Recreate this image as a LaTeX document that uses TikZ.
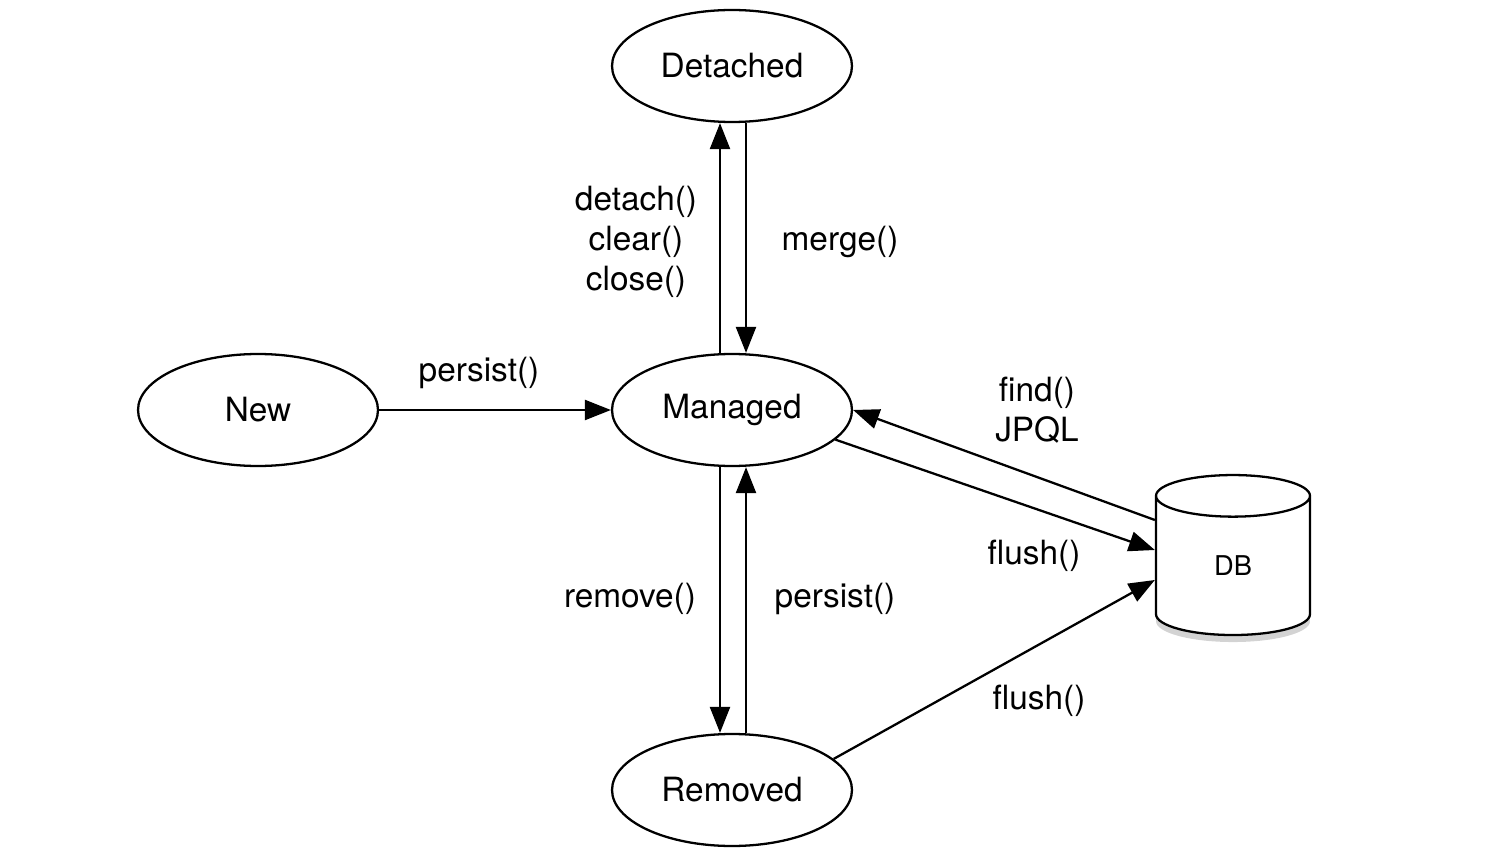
\documentclass[tikz,border=0pt]{standalone}
\usepackage{fontspec}
\setmainfont{TeX Gyre Heros}
\usetikzlibrary{arrows.meta, shapes.geometric, shadows}

\begin{document}
\begin{tikzpicture}[
  x=0.02cm, y=-0.02cm,
  font=\fontsize{19}{22.8}\selectfont, >={Triangle[length=0.52cm, width=0.4cm]},
  line width=1.3pt,
  estado/.style={draw, ellipse, minimum width=4.8cm, minimum height=2.24cm, inner sep=0pt},
  banco/.style={draw, cylinder, shape border rotate=90, aspect=1.1, minimum width=3.08cm,
                minimum height=3.2cm, fill=white, inner sep=0pt,
                font=\fontsize{15.5}{18}\selectfont,
                drop shadow={shadow xshift=0pt, shadow yshift=-4pt, opacity=0.35}},
  rotulo/.style={align=center, inner sep=0pt},
]
  \useasboundingbox (0,0) rectangle (1508,858);

  \node[estado] (det) at (732,66) {Detached};
  \node[estado] (new) at (258,410) {New};
  \node[estado] (man) at (732,410) {Managed};
  \node[estado] (rem) at (732,790) {Removed};
  \node[banco] (db) at (1233,566) {DB};

  \node[rotulo] (l_det) at (636,242) {detach()\\ clear()\\ close()};
  \node[rotulo] (l_mer) at (840,242) {merge()};
  \node[rotulo] (l_per) at (479,373) {persist()};
  \node[rotulo] (l_fin) at (1037,410) {find()\\ JPQL};
  \node[rotulo] (l_fl1) at (1034,556) {flush()};
  \node[rotulo] (l_rem) at (630,599) {remove()};
  \node[rotulo] (l_pe2) at (835,599) {persist()};
  \node[rotulo] (l_fl2) at (1039,701) {flush()};

  \draw[->] (new) -- (man);
  \draw[->] ([xshift=-12*0.02cm]man.north) -- ([xshift=-12*0.02cm]det.south);
  \draw[->] ([xshift=14*0.02cm]det.south) -- ([xshift=14*0.02cm]man.north);
  \draw[->] ([xshift=-12*0.02cm]man.south) -- ([xshift=-12*0.02cm]rem.north);
  \draw[->] ([xshift=14*0.02cm]rem.north) -- ([xshift=14*0.02cm]man.south);
  \draw[->] ([yshift=0.92cm]db.west) -- (man.east);
  \draw[->] (man.-16) -- ([yshift=0.32cm]db.west);
  \draw[->] (rem.17) -- ([yshift=-0.28cm]db.west);
\end{tikzpicture}
\end{document}
